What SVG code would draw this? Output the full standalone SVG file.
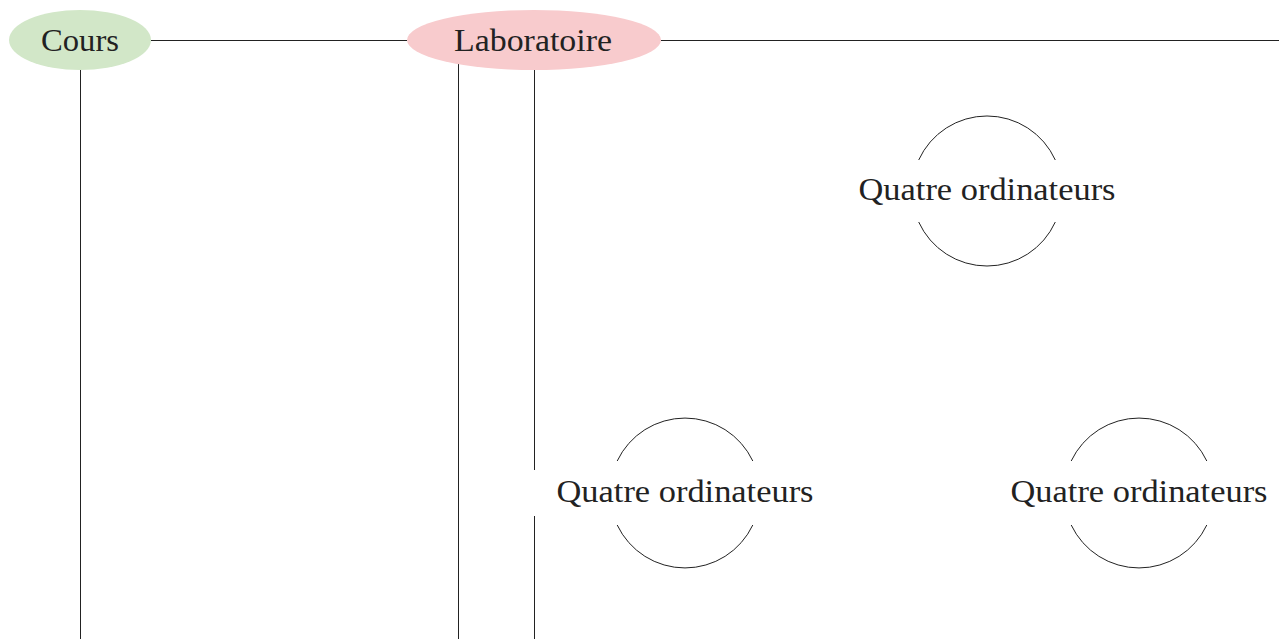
<svg xmlns="http://www.w3.org/2000/svg" width="1279" height="639" viewBox="0 0 1279 639">
<style>
.t{font-family:"Liberation Serif","DejaVu Serif",serif;font-size:31px;fill:#222;text-anchor:middle}
.c{fill:none;stroke:#222;stroke-width:1}
.e{stroke:none}
</style>
<rect width="1279" height="639" fill="#fff"/>
<g id="connectors" class="c">
<line x1="151" y1="40.5" x2="407" y2="40.5"/>
<line x1="661" y1="40.5" x2="1279" y2="40.5"/>
<line x1="80.5" y1="70" x2="80.5" y2="639"/>
<line x1="458.5" y1="64" x2="458.5" y2="639"/>
<line x1="534.5" y1="70" x2="534.5" y2="470"/>
<line x1="534.5" y1="516" x2="534.5" y2="639"/>
</g>
<g id="cours">
<ellipse class="e" cx="80" cy="40" rx="71" ry="30" fill="#d2e7c8"/>
<text class="t" x="80" y="51" textLength="78" lengthAdjust="spacingAndGlyphs">Cours</text>
</g>
<g id="laboratoire">
<ellipse class="e" cx="534" cy="40" rx="127" ry="30" fill="#f8cbcd"/>
<text class="t" x="533" y="51" textLength="158" lengthAdjust="spacingAndGlyphs">Laboratoire</text>
</g>
<g id="ordinateurs1">
<path class="c" d="M918.7 160 A75 75 0 0 1 1055.3 160"/>
<path class="c" d="M918.7 222 A75 75 0 0 0 1055.3 222"/>
<text class="t" x="987" y="199.5" textLength="257" lengthAdjust="spacingAndGlyphs">Quatre ordinateurs</text>
</g>
<g id="ordinateurs2">
<path class="c" d="M617.2 461 A75 75 0 0 1 752.8 461"/>
<path class="c" d="M617.2 525 A75 75 0 0 0 752.8 525"/>
<text class="t" x="685" y="501.5" textLength="257" lengthAdjust="spacingAndGlyphs">Quatre ordinateurs</text>
</g>
<g id="ordinateurs3">
<path class="c" d="M1071.2 461 A75 75 0 0 1 1206.8 461"/>
<path class="c" d="M1071.2 525 A75 75 0 0 0 1206.8 525"/>
<text class="t" x="1139" y="501.5" textLength="257" lengthAdjust="spacingAndGlyphs">Quatre ordinateurs</text>
</g>
</svg>
